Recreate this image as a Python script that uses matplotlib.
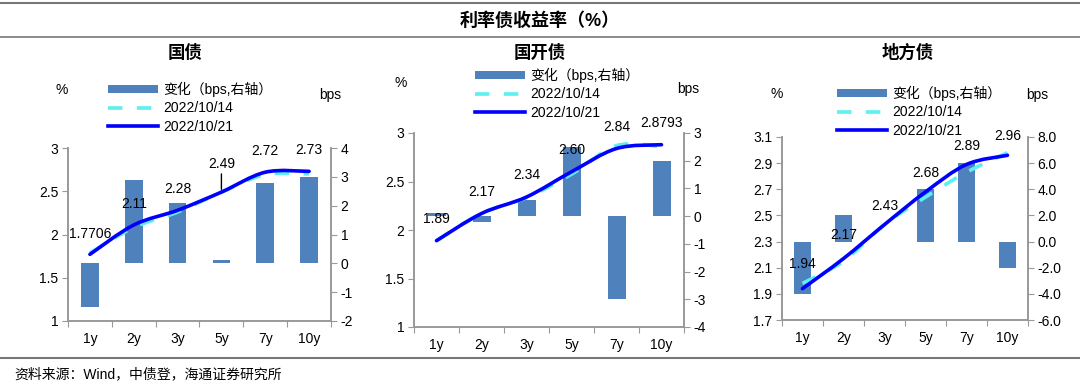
import matplotlib
matplotlib.use("Agg")
import matplotlib.pyplot as plt
from matplotlib.path import Path
from matplotlib.patches import PathPatch, Patch
from matplotlib.lines import Line2D
import numpy as np

plt.rcParams['font.family'] = ['Liberation Sans', 'Noto Sans CJK SC', 'DejaVu Sans']

# ---- data ----
tenors = ['1y', '2y', '3y', '5y', '7y', '10y']

gz_1021 = [1.7706, 2.11, 2.28, 2.49, 2.72, 2.73]
gz_1014 = [1.7856, 2.081, 2.259, 2.489, 2.692, 2.70]
gz_chg = [-1.5, 2.9, 2.1, 0.1, 2.8, 3.0]
gz_lbl = ['1.7706', '2.11', '2.28', '2.49', '2.72', '2.73']

gkz_1021 = [1.89, 2.17, 2.34, 2.60, 2.84, 2.8793]
gkz_1014 = [1.889, 2.172, 2.334, 2.575, 2.87, 2.8593]
gkz_chg = [0.1, -0.2, 0.6, 2.5, -3.0, 2.0]
gkz_lbl = ['1.89', '2.17', '2.34', '2.60', '2.84', '2.8793']

dfz_1021 = [1.94, 2.17, 2.43, 2.68, 2.89, 2.96]
dfz_1014 = [1.98, 2.15, 2.43, 2.64, 2.83, 2.98]
dfz_chg = [-4.0, 2.0, 0.0, 4.0, 6.0, -2.0]
dfz_lbl = ['1.94', '2.17', '2.43', '2.68', '2.89', '2.96']

BAR = '#4F81BD'
CYAN = '#5CF0F0'
BLUE = '#0000FF'
GRAY = '#999999'

W, H = 1080, 391
fig = plt.figure(figsize=(W / 100, H / 100), dpi=100)


def fx(px):
    return px / W


def fy(py):
    return 1 - py / H


def smooth_path(xs, ys, t=1 / 6):
    # Excel-like smoothed line: Catmull-Rom segments as cubic beziers
    pts = np.column_stack([xs, ys]).astype(float)
    n = len(pts)
    verts = [pts[0]]
    codes = [Path.MOVETO]
    for i in range(n - 1):
        p0 = pts[i - 1] if i > 0 else pts[i]
        p1, p2 = pts[i], pts[i + 1]
        p3 = pts[i + 2] if i + 2 < n else pts[i + 1]
        c1 = p1 + (p2 - p0) * t
        c2 = p2 - (p3 - p1) * t
        verts += [c1, c2, p2]
        codes += [Path.CURVE4] * 3
    return Path(verts, codes)


def panel(box, title, title_xy, old, new, chg, lbls, lylim, lticks, lfmt,
          rylim, rticks, rfmt, offsets, leg_xy, pct_xy, bps_xy, leader=None):
    x0, y0, x1, y1 = box
    ax = fig.add_axes([fx(x0), fy(y1), fx(x1 - x0), (y1 - y0) / H])
    ax2 = ax.twinx()
    ax.set_zorder(ax2.get_zorder() + 1)
    ax.patch.set_visible(False)

    x = np.arange(len(tenors))
    ax2.bar(x, chg, width=0.4, color=BAR, zorder=1)
    ax2.set_ylim(*rylim)
    ax2.set_yticks(rticks)
    ax2.set_yticklabels([rfmt.format(v) for v in rticks])

    p_old = PathPatch(smooth_path(x, old), fill=False, edgecolor=CYAN, lw=2.6,
                      linestyle=(0, (4, 4)), capstyle='butt')
    p_new = PathPatch(smooth_path(x, new), fill=False, edgecolor=BLUE, lw=2.6,
                      capstyle='round')
    ax.add_patch(p_old)
    ax.add_patch(p_new)

    ax.set_xlim(-0.5, len(tenors) - 0.5)
    ax.set_ylim(*lylim)
    ax.set_yticks(lticks)
    ax.set_yticklabels([lfmt.format(v) for v in lticks])
    ax.set_xticks(np.arange(-0.5, len(tenors)), labels=[''] * (len(tenors) + 1))
    ax.set_xticks(x, labels=tenors, minor=True)
    ax.tick_params(axis='x', which='minor', length=0, pad=8, labelsize=10)
    ax.tick_params(axis='x', which='major', length=4, color=GRAY, direction='out')

    for a in (ax, ax2):
        a.spines['top'].set_visible(False)
        for s in ('left', 'right', 'bottom'):
            a.spines[s].set_color(GRAY)
            a.spines[s].set_linewidth(1.2)
        a.tick_params(axis='y', length=4, color=GRAY, labelsize=10, pad=3)

    for i, (v, s) in enumerate(zip(new, lbls)):
        if leader is not None and i == leader:
            ax.annotate(s, (i, v), xytext=(0, offsets[i]), textcoords='offset pixels',
                        ha='center', va='bottom', fontsize=10,
                        arrowprops=dict(arrowstyle='-', color='black', lw=1,
                                        shrinkA=0, shrinkB=2))
        else:
            ax.annotate(s, (i, v), xytext=(0, offsets[i]), textcoords='offset pixels',
                        ha='center', va='center', fontsize=10)

    handles = [Patch(facecolor=BAR),
               Line2D([], [], color=CYAN, lw=2.6, linestyle=(0, (4, 4))),
               Line2D([], [], color=BLUE, lw=2.6)]
    labels = ['变化（bps,右轴）', '2022/10/14', '2022/10/21']
    ax.legend(handles, labels, loc='upper left', bbox_to_anchor=(fx(leg_xy[0]), fy(leg_xy[1])),
              bbox_transform=fig.transFigure, frameon=False, borderpad=0, borderaxespad=0,
              handlelength=3.6, handletextpad=0.4, labelspacing=0.3, fontsize=10,
              handleheight=0.5)

    fig.text(fx(title_xy[0]), fy(title_xy[1]), title, ha='center', va='center',
             fontsize=12.5, fontweight='bold')
    fig.text(fx(pct_xy[0]), fy(pct_xy[1]), '%', ha='center', va='center', fontsize=10)
    fig.text(fx(bps_xy[0]), fy(bps_xy[1]), 'bps', ha='center', va='center', fontsize=10)


panel((68, 148, 331, 321), '国债', (185, 52), gz_1014, gz_1021, gz_chg, gz_lbl,
      (1, 3), [1, 1.5, 2, 2.5, 3], '{:g}', (-2, 4), list(range(-2, 5)), '{:d}',
      [20, 21, 21, 21, 21, 21], (108, 82), (62, 90), (330, 95), leader=3)

panel((414, 133, 684, 327), '国开债', (540, 52), gkz_1014, gkz_1021, gkz_chg, gkz_lbl,
      (1, 3), [1, 1.5, 2, 2.5, 3], '{:g}', (-4, 3), list(range(-4, 4)), '{:d}',
      [22, 22, 22, 22, 22, 22], (475, 68), (401, 83), (688, 89))

panel((782, 137, 1028, 320), '地方债', (908, 52), dfz_1014, dfz_1021, dfz_chg, dfz_lbl,
      (1.7, 3.1), [1.7, 1.9, 2.1, 2.3, 2.5, 2.7, 2.9, 3.1], '{:.1f}', (-6, 8),
      list(range(-6, 9, 2)), '{:.1f}',
      [25, 24, 19, 19, 18, 19], (837, 86), (777, 94), (1037, 95))

# frame lines, header and source
for yy, lw in ((3, 1.5), (37, 1.2), (358, 1.5)):
    fig.add_artist(Line2D([0, 1], [fy(yy), fy(yy)], transform=fig.transFigure,
                          color='#777777', lw=lw))
fig.text(0.5, fy(21), '利率债收益率（%）', ha='center', va='center',
         fontsize=13, fontweight='bold')
fig.text(fx(14), fy(374), '资料来源：Wind，中债登，海通证券研究所', ha='left', va='center',
         fontsize=10)

fig.savefig('out.png', dpi=100)
